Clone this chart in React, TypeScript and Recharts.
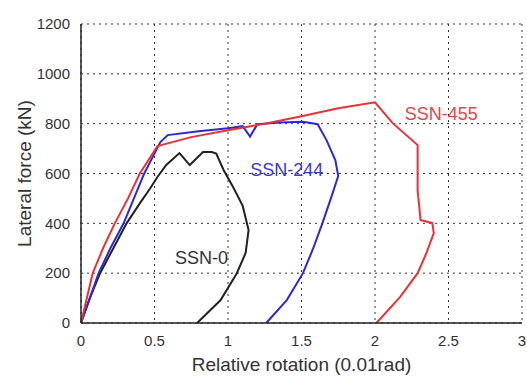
import React from "react";
import {
  LineChart,
  Line,
  XAxis,
  YAxis,
  CartesianGrid,
  ReferenceDot,
} from "recharts";

// curves (x = 0.01 rad, y = kN)
const ssn0 = [
  { x: 0, y: 0 },
  { x: 0.06, y: 100 },
  { x: 0.13, y: 200 },
  { x: 0.22, y: 300 },
  { x: 0.31, y: 400 },
  { x: 0.4, y: 480 },
  { x: 0.47, y: 540 },
  { x: 0.52, y: 586 },
  { x: 0.58, y: 634 },
  { x: 0.67, y: 682 },
  { x: 0.74, y: 634 },
  { x: 0.83, y: 686 },
  { x: 0.89, y: 686 },
  { x: 0.92, y: 680 },
  { x: 0.97, y: 614 },
  { x: 1.04, y: 540 },
  { x: 1.1, y: 470 },
  { x: 1.14, y: 373 },
  { x: 1.12, y: 281 },
  { x: 1.06, y: 200 },
  { x: 0.95, y: 92 },
  { x: 0.79, y: 0 },
];

const ssn244 = [
  { x: 0, y: 0 },
  { x: 0.06, y: 100 },
  { x: 0.12, y: 200 },
  { x: 0.2, y: 300 },
  { x: 0.29, y: 400 },
  { x: 0.36, y: 500 },
  { x: 0.43, y: 600 },
  { x: 0.54, y: 726 },
  { x: 0.59, y: 754 },
  { x: 0.8, y: 770 },
  { x: 1.0, y: 782 },
  { x: 1.1, y: 790 },
  { x: 1.15, y: 748 },
  { x: 1.2, y: 798 },
  { x: 1.35, y: 805 },
  { x: 1.51, y: 808 },
  { x: 1.61, y: 798 },
  { x: 1.67, y: 734 },
  { x: 1.73, y: 654 },
  { x: 1.75, y: 590 },
  { x: 1.7, y: 500 },
  { x: 1.64, y: 397 },
  { x: 1.58, y: 300 },
  { x: 1.51, y: 200 },
  { x: 1.4, y: 92 },
  { x: 1.26, y: 0 },
];

const ssn455 = [
  { x: 0, y: 0 },
  { x: 0.04, y: 100 },
  { x: 0.08, y: 200 },
  { x: 0.15, y: 300 },
  { x: 0.23, y: 400 },
  { x: 0.32, y: 500 },
  { x: 0.4, y: 600 },
  { x: 0.52, y: 710 },
  { x: 0.75, y: 746 },
  { x: 1.0, y: 774 },
  { x: 1.25, y: 800 },
  { x: 1.5, y: 830 },
  { x: 1.75, y: 862 },
  { x: 2.0, y: 886 },
  { x: 2.12, y: 802 },
  { x: 2.29, y: 714 },
  { x: 2.29, y: 533 },
  { x: 2.31, y: 413 },
  { x: 2.39, y: 401 },
  { x: 2.4, y: 361 },
  { x: 2.35, y: 281 },
  { x: 2.29, y: 200 },
  { x: 2.17, y: 104 },
  { x: 2.01, y: 0 },
];

const xTicks = [0, 0.5, 1, 1.5, 2, 2.5, 3];
const yTicks = [0, 200, 400, 600, 800, 1000, 1200];

const labels = [
  { text: "SSN-0", x: 0.82, y: 261, color: "#333333" },
  { text: "SSN-244", x: 1.4, y: 614, color: "#3a3acc" },
  { text: "SSN-455", x: 2.45, y: 842, color: "#e04848" },
];

const font = "'Liberation Sans', Arial, sans-serif";
const tickStyle = { fill: "#333", fontSize: 15, fontFamily: font };

export default function App() {
  return (
    <div style={{ position: "absolute", left: 0, top: 0, background: "#fff" }}>
      <LineChart
        width={527}
        height={379}
        margin={{ top: 24, right: 5, bottom: 0, left: 0 }}
      >
        <CartesianGrid stroke="#333" strokeDasharray="2 4" />
        <XAxis
          type="number"
          dataKey="x"
          domain={[0, 3]}
          ticks={xTicks}
          height={56}
          tickLine={false}
          tickMargin={6}
          axisLine={{ stroke: "#222", strokeWidth: 1.5 }}
          tick={tickStyle}
          label={{
            value: "Relative rotation (0.01rad)",
            position: "insideBottom",
            offset: 8,
            style: { fill: "#333", fontSize: 19, fontFamily: font },
          }}
        />
        <XAxis
          xAxisId="top"
          orientation="top"
          type="number"
          domain={[0, 3]}
          height={0}
          tick={false}
          tickLine={false}
          axisLine={{ stroke: "#222", strokeWidth: 1.5 }}
        />
        <YAxis
          type="number"
          domain={[0, 1200]}
          ticks={yTicks}
          width={81}
          tickLine={false}
          tickMargin={5}
          axisLine={{ stroke: "#222", strokeWidth: 1.5 }}
          tick={tickStyle}
          label={{
            value: "Lateral force (kN)",
            angle: -90,
            position: "insideLeft",
            offset: 24,
            style: {
              fill: "#333",
              fontSize: 19,
              fontFamily: font,
              textAnchor: "middle",
            },
          }}
        />
        <YAxis
          yAxisId="right"
          orientation="right"
          type="number"
          domain={[0, 1200]}
          width={0}
          tick={false}
          tickLine={false}
          axisLine={{ stroke: "#222", strokeWidth: 1.5 }}
        />
        <Line
          data={ssn0}
          dataKey="y"
          type="linear"
          stroke="#222"
          strokeWidth={2}
          dot={false}
          isAnimationActive={false}
        />
        <Line
          data={ssn244}
          dataKey="y"
          type="linear"
          stroke="#2a2ad0"
          strokeWidth={2}
          dot={false}
          isAnimationActive={false}
        />
        <Line
          data={ssn455}
          dataKey="y"
          type="linear"
          stroke="#e8323a"
          strokeWidth={2}
          dot={false}
          isAnimationActive={false}
        />
        {labels.map((l) => (
          <ReferenceDot
            key={l.text}
            x={l.x}
            y={l.y}
            r={0}
            fill="none"
            stroke="none"
            label={{
              value: l.text,
              position: "center",
              style: { fill: l.color, fontSize: 18, fontFamily: font },
            }}
          />
        ))}
      </LineChart>
    </div>
  );
}
